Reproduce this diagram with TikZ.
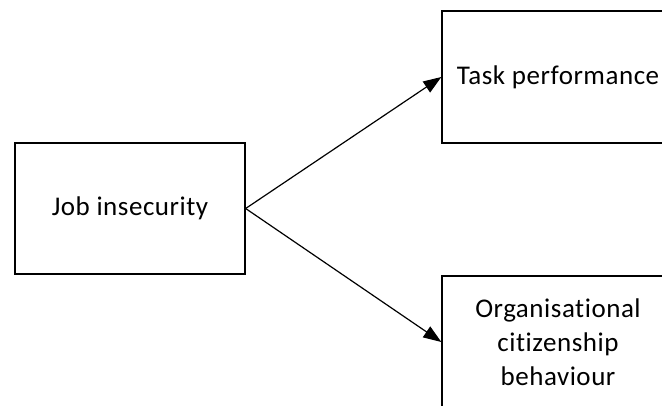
\documentclass[tikz,border=0pt]{standalone}
\usepackage{fontspec}
\setmainfont[Ligatures=NoCommon,LetterSpace=2]{Carlito}
\usetikzlibrary{arrows.meta}
\begin{document}
\begin{tikzpicture}[x=1pt,y=-1pt,
  boxnode/.style={draw,line width=1.3pt,minimum width=230pt,minimum height=131pt,align=center,font=\fontsize{27}{34}\selectfont,inner sep=0pt},
  conn/.style={line width=1.2pt,-{Triangle[length=18pt,width=13pt]}}]
\useasboundingbox (0,0) rectangle (662,405);
\clip (0,0) rectangle (662,405);
\node[boxnode] (ji) at (130,208.5) {Job insecurity};
\node[boxnode,minimum width=232pt,minimum height=132pt] (tp) at (558,77) {Task performance};
\node[boxnode,minimum width=232pt,minimum height=132pt] (ocb) at (558,342) {Organisational\\citizenship\\behaviour};
\draw[conn] (ji.east) -- (tp.west);
\draw[conn] (ji.east) -- (ocb.west);
\end{tikzpicture}
\end{document}
